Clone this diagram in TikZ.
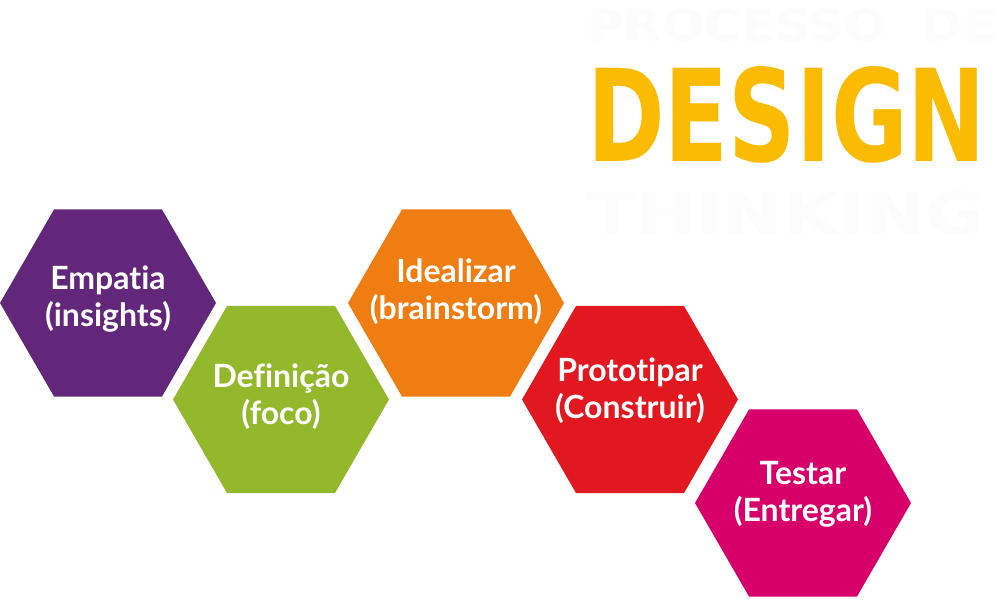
\documentclass[tikz,border=0pt]{standalone}
\usepackage{fontspec}
\setmainfont{Lato}[Ligatures={NoCommon,NoDiscretionary,NoContextual}]
\newfontfamily\titlefont{DejaVu Sans}
\usetikzlibrary{shapes.geometric}
\definecolor{hpurple}{HTML}{62277A}
\definecolor{hgreen}{HTML}{93B82B}
\definecolor{horange}{HTML}{EF7D12}
\definecolor{hred}{HTML}{E1181F}
\definecolor{hmagenta}{HTML}{D7006A}
\definecolor{tyellow}{HTML}{FABB00}
\definecolor{tfaint}{HTML}{FCFCFC}
\tikzset{
  hex/.style={regular polygon, regular polygon sides=6, minimum size=216pt, inner sep=0pt, outer sep=0pt, draw=none},
  hextext/.style={text=white, font=\bfseries\fontsize{32}{37}\selectfont, align=center, inner sep=0pt},
  title/.style={inner sep=0pt, anchor=north west, font=\titlefont\bfseries}
}
\begin{document}
\begin{tikzpicture}[x=1pt,y=-1pt]
\useasboundingbox[fill=white] (0,0) rectangle (1001,600);
% title
\node[title, text=tfaint] (t1) at (587,8) {\resizebox{410pt}{33pt}{PROCESSO\ \ DE}};
\node[title, text=tyellow] (t2) at (587,66) {\resizebox{399pt}{95pt}{DESIGN}};
\node[title, text=tfaint] (t3) at (587,191) {\resizebox{397pt}{43pt}{THINKING}};
% hexagons
\node[hex, fill=hpurple] (h1) at (108,303) {};
\node[hex, fill=hgreen] (h2) at (281,399.5) {};
\node[hex, fill=horange] (h3) at (456,303) {};
\node[hex, fill=hred] (h4) at (630,399.5) {};
\node[hex, fill=hmagenta] (h5) at (803,503) {};
% labels
\node[hextext] (l1) at (108,299) {Empatia\\(insights)};
\node[hextext] (l2) at (281,397) {Definição\\(foco)};
\node[hextext] (l3) at (456,292) {Idealizar\\(brainstorm)};
\node[hextext] (l4) at (630,391) {Prototipar\\(Construir)};
\node[hextext] (l5) at (803,494) {Testar\\(Entregar)};
\end{tikzpicture}
\end{document}
